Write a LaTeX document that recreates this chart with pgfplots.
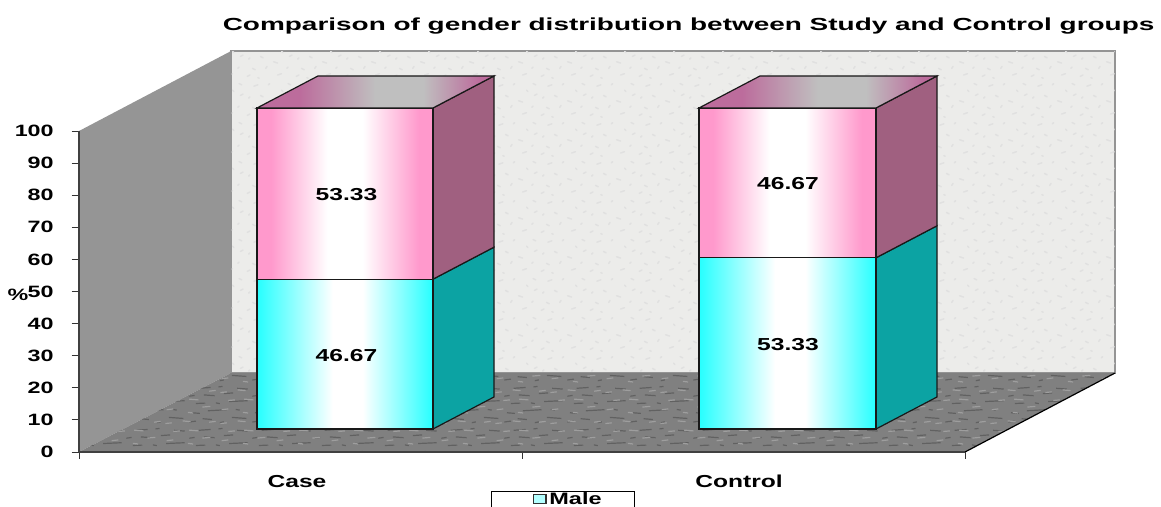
\documentclass[border=0pt]{standalone}
\usepackage{fontspec}
\setmainfont{Liberation Sans}[FakeStretch=1.42]
\newfontfamily\titlefont{Liberation Sans}[FakeStretch=1.6]
\usepackage{pgfplots}
\pgfplotsset{compat=1.18}
\usetikzlibrary{patterns}
\definecolor{cy}{HTML}{26FFFF}
\definecolor{pk}{HTML}{FF99CC}
\definecolor{teal3d}{HTML}{0CA3A3}
\definecolor{mauve3d}{HTML}{A06080}
\definecolor{mauvetop}{HTML}{BC6C9C}
\definecolor{wallback}{HTML}{ECECEA}
\definecolor{wallleft}{HTML}{959595}
\definecolor{floorc}{HTML}{808080}
\pgfdeclarehorizontalshading{cybar}{100bp}{color(0bp)=(cy);color(25bp)=(cy);color(46.5bp)=(white);color(55bp)=(white);color(75bp)=(cy);color(100bp)=(cy)}
\pgfdeclarehorizontalshading{pkbar}{100bp}{color(0bp)=(pk);color(25bp)=(pk);color(29bp)=(pk);color(45bp)=(white);color(55bp)=(white);color(71bp)=(pk);color(75bp)=(pk);color(100bp)=(pk)}
\pgfdeclarehorizontalshading{topbar}{100bp}{color(0bp)=(mauvetop);color(25bp)=(mauvetop);color(34bp)=(mauvetop);color(50bp)=(lightgray);color(60bp)=(lightgray);color(72bp)=(mauvetop);color(100bp)=(mauvetop)}
\pgfdeclarepatternformonly{mottle}{\pgfpointorigin}{\pgfqpoint{47pt}{31pt}}{\pgfqpoint{47pt}{31pt}}{%
  \pgfsetlinewidth{0.9pt}%
  \pgfpathmoveto{\pgfqpoint{1pt}{1.5pt}}\pgfpathlineto{\pgfqpoint{6pt}{2.2pt}}%
  \pgfpathmoveto{\pgfqpoint{11pt}{4pt}}\pgfpathlineto{\pgfqpoint{18pt}{3.4pt}}%
  \pgfpathmoveto{\pgfqpoint{24pt}{1pt}}\pgfpathlineto{\pgfqpoint{27pt}{1.6pt}}%
  \pgfpathmoveto{\pgfqpoint{33pt}{5pt}}\pgfpathlineto{\pgfqpoint{44pt}{4.2pt}}%
  \pgfpathmoveto{\pgfqpoint{3pt}{8.5pt}}\pgfpathlineto{\pgfqpoint{9pt}{8pt}}%
  \pgfpathmoveto{\pgfqpoint{15pt}{10pt}}\pgfpathlineto{\pgfqpoint{29pt}{10.8pt}}%
  \pgfpathmoveto{\pgfqpoint{36pt}{11pt}}\pgfpathlineto{\pgfqpoint{39pt}{10.5pt}}%
  \pgfpathmoveto{\pgfqpoint{6pt}{15.5pt}}\pgfpathlineto{\pgfqpoint{13pt}{15.8pt}}%
  \pgfpathmoveto{\pgfqpoint{21pt}{16pt}}\pgfpathlineto{\pgfqpoint{24pt}{15.4pt}}%
  \pgfpathmoveto{\pgfqpoint{31pt}{17pt}}\pgfpathlineto{\pgfqpoint{45pt}{17.6pt}}%
  \pgfpathmoveto{\pgfqpoint{1pt}{21pt}}\pgfpathlineto{\pgfqpoint{5pt}{21.6pt}}%
  \pgfpathmoveto{\pgfqpoint{12pt}{22pt}}\pgfpathlineto{\pgfqpoint{20pt}{21.4pt}}%
  \pgfpathmoveto{\pgfqpoint{27pt}{23pt}}\pgfpathlineto{\pgfqpoint{34pt}{23.5pt}}%
  \pgfpathmoveto{\pgfqpoint{8pt}{27pt}}\pgfpathlineto{\pgfqpoint{17pt}{27.6pt}}%
  \pgfpathmoveto{\pgfqpoint{23pt}{28pt}}\pgfpathlineto{\pgfqpoint{26pt}{28.4pt}}%
  \pgfpathmoveto{\pgfqpoint{37pt}{27pt}}\pgfpathlineto{\pgfqpoint{45pt}{26.4pt}}%
  \pgfusepath{stroke}}
\pgfdeclarepatternformonly{mottleb}{\pgfpointorigin}{\pgfqpoint{41pt}{23pt}}{\pgfqpoint{41pt}{23pt}}{%
  \pgfsetlinewidth{0.9pt}%
  \pgfpathmoveto{\pgfqpoint{2pt}{4pt}}\pgfpathlineto{\pgfqpoint{7pt}{4.6pt}}%
  \pgfpathmoveto{\pgfqpoint{18pt}{2pt}}\pgfpathlineto{\pgfqpoint{22pt}{1.5pt}}%
  \pgfpathmoveto{\pgfqpoint{29pt}{6pt}}\pgfpathlineto{\pgfqpoint{35pt}{6.5pt}}%
  \pgfpathmoveto{\pgfqpoint{7pt}{11pt}}\pgfpathlineto{\pgfqpoint{12pt}{11.4pt}}%
  \pgfpathmoveto{\pgfqpoint{19pt}{12pt}}\pgfpathlineto{\pgfqpoint{26pt}{11.4pt}}%
  \pgfpathmoveto{\pgfqpoint{1pt}{17pt}}\pgfpathlineto{\pgfqpoint{6pt}{17.5pt}}%
  \pgfpathmoveto{\pgfqpoint{14pt}{19pt}}\pgfpathlineto{\pgfqpoint{20pt}{18.4pt}}%
  \pgfpathmoveto{\pgfqpoint{34pt}{18pt}}\pgfpathlineto{\pgfqpoint{39pt}{18.6pt}}%
  \pgfusepath{stroke}}
\pgfdeclarepatternformonly{speck}{\pgfpointorigin}{\pgfqpoint{37pt}{29pt}}{\pgfqpoint{37pt}{29pt}}{%
  \pgfsetlinewidth{1.1pt}\pgfsetroundcap%
  \pgfpathmoveto{\pgfqpoint{1pt}{2pt}}\pgfpathlineto{\pgfqpoint{3pt}{3pt}}%
  \pgfpathmoveto{\pgfqpoint{9pt}{1pt}}\pgfpathlineto{\pgfqpoint{10pt}{0.6pt}}%
  \pgfpathmoveto{\pgfqpoint{24pt}{3pt}}\pgfpathlineto{\pgfqpoint{27pt}{4pt}}%
  \pgfpathmoveto{\pgfqpoint{31pt}{8pt}}\pgfpathlineto{\pgfqpoint{32pt}{9pt}}%
  \pgfpathmoveto{\pgfqpoint{5pt}{8pt}}\pgfpathlineto{\pgfqpoint{7pt}{7pt}}%
  \pgfpathmoveto{\pgfqpoint{15pt}{8pt}}\pgfpathlineto{\pgfqpoint{16pt}{9.5pt}}%
  \pgfpathmoveto{\pgfqpoint{21pt}{13pt}}\pgfpathlineto{\pgfqpoint{24pt}{12pt}}%
  \pgfpathmoveto{\pgfqpoint{2pt}{15pt}}\pgfpathlineto{\pgfqpoint{3pt}{16pt}}%
  \pgfpathmoveto{\pgfqpoint{11pt}{17pt}}\pgfpathlineto{\pgfqpoint{13pt}{16pt}}%
  \pgfpathmoveto{\pgfqpoint{33pt}{17pt}}\pgfpathlineto{\pgfqpoint{35pt}{18pt}}%
  \pgfpathmoveto{\pgfqpoint{27pt}{21pt}}\pgfpathlineto{\pgfqpoint{28pt}{20pt}}%
  \pgfpathmoveto{\pgfqpoint{6pt}{24pt}}\pgfpathlineto{\pgfqpoint{9pt}{25pt}}%
  \pgfpathmoveto{\pgfqpoint{17pt}{25pt}}\pgfpathlineto{\pgfqpoint{18pt}{26pt}}%
  \pgfpathmoveto{\pgfqpoint{32pt}{26pt}}\pgfpathlineto{\pgfqpoint{34pt}{25pt}}%
  \pgfusepath{stroke}}
\begin{document}
\begin{tikzpicture}
\path[use as bounding box] (-59.25pt,-41.25pt) rectangle (811.5pt,339pt);
\begin{axis}[
  at={(0,0)}, anchor=south west,
  scale only axis, width=664.5pt, height=240.75pt,
  clip=false, axis on top,
  xmin=79, xmax=965, ymin=0, ymax=100,
  axis x line=bottom, axis y line=left,
  axis line style={-, draw=black!75, line width=1.1pt},
  ytick={0,10,...,100},
  xtick={297,739}, xticklabels={Case,Control},
  minor xtick={79,522,965},
  tick align=outside,
  major tick length=5.5pt, minor tick length=5pt,
  y tick style={draw=black!80, line width=0.7pt},
  x tick style={draw=none},
  minor x tick style={draw=black!80, line width=0.7pt},
  /pgf/number format/assume math mode=true,
  tick label style={font=\fontsize{12.3}{14}\selectfont\bfseries},
  yticklabel style={xshift=-10pt},
  xticklabel style={yshift=-8.5pt, font=\fontsize{13}{15}\selectfont\bfseries},
  title={Comparison of gender distribution between Study and Control groups},
  title style={at={(0.688,1.302)}, anchor=center, yshift=0pt, font=\fontsize{13.1}{15}\selectfont\titlefont\bfseries},
  legend style={at={(0.5462,-0.1215)}, anchor=north, draw=black, fill=white, line width=0.6pt,
    font=\fontsize{12.4}{14}\selectfont\bfseries, inner sep=0pt, cells={anchor=west}},
  legend image code/.code={\path (-31pt,0pt); \draw[black!80, line width=1.1pt, fill=cy!35!white] (0pt,-2pt) rectangle (9.5pt,5pt);},
]
% walls and floor
\addplot[forget plot, fill=wallback, draw=black!42, line width=1.1pt] coordinates {(231,24.6)(1115,24.6)(1115,124.9)(231,124.9)} -- cycle;
\addplot[forget plot, pattern=speck, pattern color=black!12, draw=none] coordinates {(231.5,24.8)(1114.5,24.8)(1114.5,124.7)(231.5,124.7)} -- cycle;
\addplot[forget plot, fill=wallleft, draw=none] coordinates {(79,0)(79,100)(231,124.9)(231,24.6)} -- cycle;
\addplot[forget plot, fill=floorc, draw=none] coordinates {(79,0)(965,0)(1115,24.6)(231,24.6)} -- cycle;
\addplot[forget plot, pattern=mottle, pattern color=black!62, draw=none] coordinates {(79,0)(965,0)(1115,24.6)(231,24.6)} -- cycle;
\addplot[forget plot, pattern=mottleb, pattern color=black!38, draw=none] coordinates {(79,0)(965,0)(1115,24.6)(231,24.6)} -- cycle;
\addplot[forget plot, black, line width=0.9pt] coordinates {(965,0)(1115,24.6)};
% Case: lower segment 46.67, upper segment 53.33, drawn from the floor offset 7.17
\addplot[forget plot, fill=teal3d, draw=black!90, line width=0.9pt] coordinates {(433,7.17)(494,17.14)(494,63.81)(433,53.84)} -- cycle;
\addplot[forget plot, fill=mauve3d, draw=black!90, line width=0.9pt] coordinates {(433,53.84)(494,63.81)(494,117.14)(433,107.17)} -- cycle;
\addplot[forget plot, shade, shading=cybar, draw=black!90, line width=0.9pt] coordinates {(257,7.17)(433,7.17)(433,53.84)(257,53.84)} -- cycle;
\addplot[forget plot, shade, shading=pkbar, draw=black!90, line width=0.9pt] coordinates {(257,53.84)(433,53.84)(433,107.17)(257,107.17)} -- cycle;
\addplot[forget plot, shade, shading=topbar, draw=black!90, line width=0.9pt] coordinates {(257,107.17)(433,107.17)(494,117.14)(318,117.14)} -- cycle;
% Control: lower segment 53.33, upper segment 46.67
\addplot[forget plot, fill=teal3d, draw=black!90, line width=0.9pt] coordinates {(876,7.17)(937,17.14)(937,70.47)(876,60.5)} -- cycle;
\addplot[forget plot, fill=mauve3d, draw=black!90, line width=0.9pt] coordinates {(876,60.5)(937,70.47)(937,117.14)(876,107.17)} -- cycle;
\addplot[forget plot, shade, shading=cybar, draw=black!90, line width=0.9pt] coordinates {(699,7.17)(876,7.17)(876,60.5)(699,60.5)} -- cycle;
\addplot[forget plot, shade, shading=pkbar, draw=black!90, line width=0.9pt] coordinates {(699,60.5)(876,60.5)(876,107.17)(699,107.17)} -- cycle;
\addplot[forget plot, shade, shading=topbar, draw=black!90, line width=0.9pt] coordinates {(699,107.17)(876,107.17)(937,117.14)(760,117.14)} -- cycle;
% value labels
\node[font=\fontsize{13}{15}\selectfont\bfseries] at (axis cs:346.5,30.2) {46.67};
\node[font=\fontsize{13}{15}\selectfont\bfseries] at (axis cs:346.5,80.1) {53.33};
\node[font=\fontsize{13}{15}\selectfont\bfseries] at (axis cs:788,33.5) {53.33};
\node[font=\fontsize{13}{15}\selectfont\bfseries] at (axis cs:788,83.5) {46.67};
\node[font=\fontsize{12.3}{14}\selectfont\bfseries] at (axis cs:18,48.8) {\%};
\addlegendimage{}
\addlegendentry{\raisebox{1.2pt}{\smash{Male}}\rule{22.5pt}{0pt}\rule[-12pt]{0pt}{21pt}}
\end{axis}
\end{tikzpicture}
\end{document}
